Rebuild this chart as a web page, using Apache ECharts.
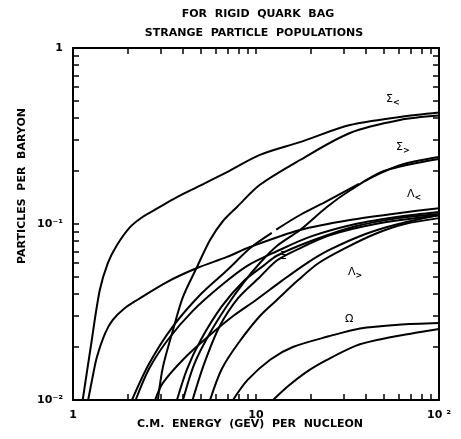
<!DOCTYPE html>
<html>
<head>
<meta charset="utf-8">
<script src="https://cdn.jsdelivr.net/npm/echarts@6/dist/echarts.min.js"></script>
<style>
  html, body { margin: 0; padding: 0; background: #fff; }
  #main { width: 461px; height: 439px; }
</style>
</head>
<body>
<div id="main"></div>
<script>
// tick values (log axes)
var xTicks = [1, 2, 3, 4, 5, 6, 7, 8, 9, 10, 20, 30, 40, 50, 60, 70, 80, 90, 100];
var yTicks = [0.01, 0.02, 0.03, 0.04, 0.05, 0.06, 0.07, 0.08, 0.09, 0.1, 0.2, 0.3, 0.4, 0.5, 0.6, 0.7, 0.8, 0.9, 1];
var xLabels = [1, 10, 100];
var yLabels = [0.01, 0.1, 1];

// curves as [energy, particles per baryon]
var sigmaA = [[1.13, 0.01], [1.25, 0.02], [1.4, 0.042], [1.55, 0.06], [1.74, 0.076], [2.05, 0.096], [2.41, 0.11], [2.9, 0.123], [3.7, 0.142], [4.76, 0.162], [6.94, 0.197], [10.5, 0.247], [17.4, 0.292], [32.6, 0.365], [61.2, 0.406], [100, 0.43]];
var sigmaB = [[2.91, 0.01], [3.1, 0.0154], [3.52, 0.025], [3.99, 0.0385], [4.76, 0.057], [5.61, 0.0811], [6.6, 0.104], [7.88, 0.125], [10.5, 0.167], [17.4, 0.231], [32.6, 0.329], [61.2, 0.39], [100, 0.413]];
var flatC = [[1.21, 0.01], [1.28, 0.0135], [1.35, 0.0175], [1.5, 0.024], [1.65, 0.0285], [1.9, 0.033], [2.24, 0.037], [3.26, 0.0468], [4.76, 0.0562], [6.94, 0.065], [9.27, 0.074], [17.4, 0.0925], [32.6, 0.1054], [61.2, 0.1155], [100, 0.123]];
var sigmaD = [[2.1, 0.01], [2.6, 0.016], [3.5, 0.026], [5, 0.04], [7, 0.055], [9.3, 0.073], [12.2, 0.089], [12.5, null], [12.9, 0.093], [17.4, 0.1125], [24.4, 0.135], [36.5, 0.169], [37.5, null], [39.5, 0.176], [61.2, 0.216], [100, 0.24]];
var sigmaE = [[3.99, 0.01], [4.6, 0.016], [5.6, 0.024], [6.9, 0.034], [8.5, 0.046], [10.5, 0.06], [13, 0.075], [17.4, 0.0925], [24.4, 0.125], [32.6, 0.155], [50, 0.2], [100, 0.234]];
var lamF = [[2.2, 0.01], [2.6, 0.015], [3.3, 0.022], [4.5, 0.032], [6.5, 0.045], [9, 0.058], [13, 0.07], [20, 0.085], [35, 0.1], [60, 0.11], [100, 0.117]];
var lamG = [[3.7, 0.01], [4.2, 0.015], [5, 0.022], [6.5, 0.034], [8.5, 0.047], [11, 0.058], [13, 0.066], [20, 0.08], [35, 0.097], [60, 0.108], [100, 0.114]];
var lamH = [[4.5, 0.01], [5.2, 0.016], [6.3, 0.026], [8, 0.038], [10.5, 0.05], [13, 0.062], [17, 0.072], [25, 0.086], [45, 0.1], [100, 0.112]];
var lamI = [[5.61, 0.01], [6.5, 0.015], [8, 0.021], [10.5, 0.03], [13, 0.037], [17, 0.048], [22, 0.06], [30, 0.072], [45, 0.088], [65, 0.1], [100, 0.108]];
var lamJ = [[2.81, 0.01], [3.1, 0.0125], [4, 0.017], [5.5, 0.023], [7.5, 0.03], [10, 0.037], [14, 0.048], [19, 0.06], [25, 0.071], [40, 0.088], [60, 0.1], [100, 0.1125]];
var omegaK = [[7.49, 0.01], [9, 0.013], [12, 0.017], [15.9, 0.02], [25, 0.023], [37, 0.0255], [60, 0.0268], [100, 0.0274]];
var omegaL = [[12.4, 0.01], [15, 0.012], [19, 0.0145], [24.4, 0.0169], [35, 0.0203], [45.8, 0.0219], [70, 0.0238], [100, 0.0253]];

var curves = [sigmaA, sigmaB, flatC, sigmaD, sigmaE, lamF, lamG, lamH, lamI, lamJ, omegaK, omegaL];

var font = 'DejaVu Sans';
var myChart = echarts.init(document.getElementById('main'));

function logAxis(pos, min, max, ticks, labels, showLabel) {
  return {
    type: 'log', logBase: 10, min: min, max: max, position: pos,
    axisLine: { show: true, onZero: false, lineStyle: { color: '#000', width: 2 } },
    axisTick: { show: true, inside: true, length: 6, customValues: ticks, lineStyle: { color: '#000', width: 1.5 } },
    minorTick: { show: false },
    splitLine: { show: false },
    axisLabel: {
      show: showLabel, customValues: labels, color: '#000', fontFamily: font, fontWeight: 'bold', fontSize: 11, margin: 10,
      formatter: function (v) {
        if (v === 1) return '1';
        if (v === 10) return '10';
        if (v === 100) return '10 ²';
        if (Math.abs(v - 0.1) < 1e-9) return '10⁻¹';
        if (Math.abs(v - 0.01) < 1e-9) return '10⁻²';
        return '';
      }
    }
  };
}

var series = curves.map(function (c) {
  return {
    type: 'line', data: c, smooth: 0.3, showSymbol: false, symbol: 'none',
    connectNulls: false, clip: true,
    lineStyle: { color: '#000', width: 2 }
  };
});

function greek(x, y, g, sub) {
  return {
    type: 'text', x: x, y: y,
    style: {
      text: '{g|' + g + '}' + (sub ? '{s|' + sub + '}' : ''),
      rich: {
        g: { fontFamily: font, fontSize: 11, color: '#000' },
        s: { fontFamily: font, fontSize: 8, color: '#000', fontWeight: 'bold', padding: [8, 0, 0, 0] }
      }
    }
  };
}

var titleStyle = { fontFamily: font, fontWeight: 'bold', fontSize: 11, fill: '#000', align: 'center', verticalAlign: 'middle' };

myChart.setOption({
  backgroundColor: '#fff',
  animation: false,
  grid: { left: 73, right: 22, top: 48, bottom: 39 },
  xAxis: [
    logAxis('bottom', 1, 100, xTicks, xLabels, true),
    logAxis('top', 1, 100, xTicks, xLabels, false)
  ],
  yAxis: [
    logAxis('left', 0.01, 1, yTicks, yLabels, true),
    logAxis('right', 0.01, 1, yTicks, yLabels, false)
  ],
  series: series,
  graphic: [
    { type: 'text', x: 258, y: 14, style: Object.assign({ text: 'FOR  RIGID  QUARK  BAG' }, titleStyle) },
    { type: 'text', x: 254, y: 33, style: Object.assign({ text: 'STRANGE  PARTICLE  POPULATIONS' }, titleStyle) },
    { type: 'text', x: 250, y: 424, style: Object.assign({ text: 'C.M.  ENERGY  (GEV)  PER  NUCLEON' }, titleStyle) },
    { type: 'text', x: 22, y: 186, rotation: Math.PI / 2, style: Object.assign({ text: 'PARTICLES  PER  BARYON' }, titleStyle) },
    greek(386, 91, 'Σ', '<'),
    greek(396, 139, 'Σ', '>'),
    greek(407, 186, 'Λ', '<'),
    greek(280, 251, 'Ξ'),
    greek(348, 264, 'Λ', '>'),
    greek(345, 314, 'Ω')
  ]
});
</script>
</body>
</html>
